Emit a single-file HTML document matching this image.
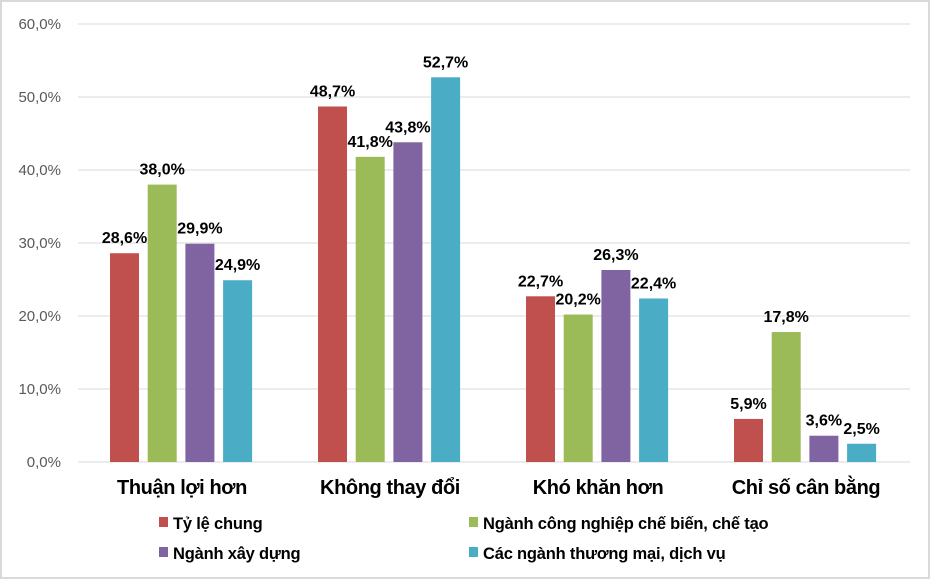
<!DOCTYPE html>
<html><head><meta charset="utf-8"><style>
body{margin:0;background:#fff}
svg{display:block;font-family:"Liberation Sans",Arial,sans-serif}
</style></head><body>
<svg id="chart" width="931" height="581">
<rect x="1" y="1" width="928" height="577" fill="#fff" stroke="#d9d9d9" stroke-width="2"/>
<g id="grid"></g><g id="bars"></g><g id="labels"></g><g id="legend"></g>
</svg>
<script>
const categories=["Thuận lợi hơn","Không thay đổi","Khó khăn hơn","Chỉ số cân bằng"];
const seriesNames=["Tỷ lệ chung","Ngành công nghiệp chế biến, chế tạo","Ngành xây dựng","Các ngành thương mại, dịch vụ"];
const s1=[28.6,48.7,22.7,5.9];
const s2=[38.0,41.8,20.2,17.8];
const s3=[29.9,43.8,26.3,3.6];
const s4=[24.9,52.7,22.4,2.5];
const ticks=[0,10,20,30,40,50,60];
const series=[s1,s2,s3,s4];
const colors=["#c0504d","#9bbb59","#8064a2","#4bacc6"];
const NS="http://www.w3.org/2000/svg";
const x0=78,x1=910,y0=462,yTop=24;
const y=v=>y0-(v/60)*(y0-yTop);
const gw=(x1-x0)/categories.length;
const fmt=v=>v.toFixed(1).replace('.',',')+'%';
function mk(t,a,p){const e=document.createElementNS(NS,t);for(const k in a)e.setAttribute(k,a[k]);p.appendChild(e);return e;}
const grid=document.getElementById('grid'),bars=document.getElementById('bars'),labels=document.getElementById('labels'),legend=document.getElementById('legend');
ticks.forEach(t=>{
 const l=mk('line',{x1:x0,x2:x1,y1:y(t),y2:y(t),stroke:'#d9d9d9','stroke-width':1},grid);
 
 
 const tx=mk('text',{x:61,y:y(t)+5,'text-anchor':'end','font-size':15,fill:'#595959'},grid);
 tx.textContent=fmt(t);
 
 
});
categories.forEach((c,i)=>{
 const cx=x0+gw*(i+0.5);
 series.forEach((s,j)=>{
  const bx=cx-72+j*37.7, v=s[i];
  const r=mk('rect',{x:bx,y:y(v),width:29,height:y0-y(v),fill:colors[j]},bars);
  
  
  const t=mk('text',{x:bx+14.5,y:y(v)-10,'text-anchor':'middle','font-size':16,'font-weight':'bold',fill:'#000'},labels);
  t.textContent=fmt(v);
  
  
 });
 const ct=mk('text',{x:cx,y:494,'text-anchor':'middle','font-size':20,'font-weight':'bold','letter-spacing':'-0.4',fill:'#000'},labels);
 ct.textContent=c;
 
 
});
const lp=[[159,529],[469,529],[159,559],[469,559]];
seriesNames.forEach((n,j)=>{
 const g=mk('g',{},legend);
 
 
 mk('rect',{x:lp[j][0],y:lp[j][1]-12,width:9,height:10,fill:colors[j]},g);
 const t=mk('text',{x:lp[j][0]+14,y:lp[j][1],'font-size':16.5,'font-weight':'bold','letter-spacing':'-0.2',fill:'#000'},g);
 t.textContent=n;
});
</script>
</body></html>
